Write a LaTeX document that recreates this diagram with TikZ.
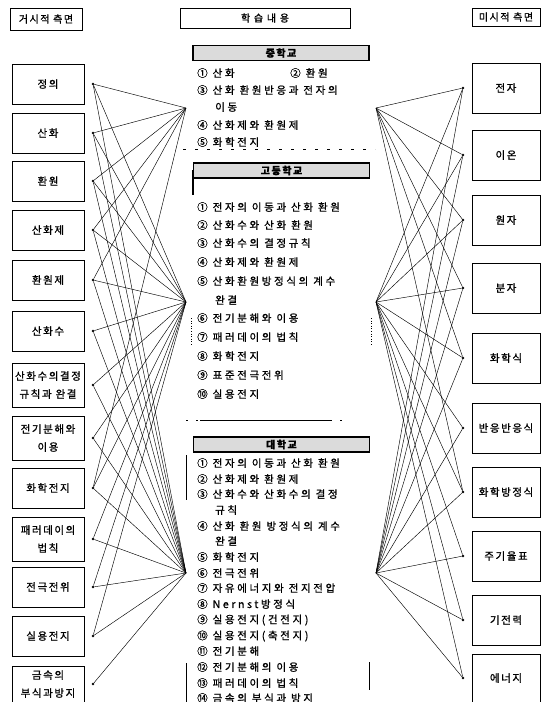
\documentclass[tikz,border=0pt]{standalone}
\usepackage{fontspec}
\newfontfamily\kr{Noto Sans CJK KR}[LetterSpace=15,FakeBold=1]
\newfontfamily\krm{Noto Sans CJK KR}[LetterSpace=25,FakeBold=1]
\begin{document}
\begin{tikzpicture}[x=1pt,y=-1pt,
  lbox/.style={draw, line width=0.6pt, minimum width=72pt, minimum height=40pt, inner sep=1pt, align=center, font=\kr\fontsize{10.5}{18}\selectfont},
  rbox/.style={draw, line width=0.6pt, minimum width=68pt, minimum height=50pt, inner sep=1pt, align=center, font=\kr\fontsize{10.5}{18}\selectfont},
  hbox/.style={draw, line width=0.6pt, inner sep=1pt, align=center, font=\kr\fontsize{10}{12}\selectfont},
  titlebox/.style={draw, line width=1.6pt, fill=gray!28, minimum width=176pt, minimum height=15pt, inner sep=0pt, font=\kr\bfseries\fontsize{10}{12}\selectfont},
  item/.style={anchor=west, inner sep=0pt, font=\krm\fontsize{10.5}{12}\selectfont},
  dotn/.style={circle, fill=black, inner sep=0pt, minimum size=2.6pt},
  link/.style={line width=0.45pt},
  scan/.style={line width=0.6pt}]
\useasboundingbox (0,0) rectangle (552,702);
\fill[white] (0,0) rectangle (552,702);

% headers
\node[hbox, minimum width=72pt, minimum height=22pt] (hL) at (46,19) {거시적 측면};
\node[hbox, minimum width=170pt, minimum height=20pt] (hC) at (265,18) {학 습 내 용};
\node[hbox, minimum width=68pt, minimum height=18pt] (hR) at (506,17) {미시적 측면};

% left boxes
\node[lbox] (L1) at (48,84) {정의};
\node[lbox] (L2) at (48,133) {산화};
\node[lbox] (L3) at (48,181) {환원};
\node[lbox] (L4) at (48,230) {산화제};
\node[lbox] (L5) at (48,280) {환원제};
\node[lbox] (L6) at (48,331) {산화수};
\node[lbox, minimum height=44pt] (L7) at (48,385) {산화수의결정\\규칙과 완결};
\node[lbox, minimum height=44pt] (L8) at (48,438) {전기분해와\\이용};
\node[lbox] (L9) at (48,488) {화학전지};
\node[lbox, minimum height=44pt] (L10) at (48,539) {패러데이의\\법칙};
\node[lbox] (L11) at (48,587) {전극전위};
\node[lbox] (L12) at (48,636) {실용전지};
\node[lbox, minimum height=36pt] (L13) at (48,684) {금속의\\부식과방지};

% right boxes
\node[rbox] (R1b) at (506,88) {전자};
\node[rbox] (R2b) at (506,155) {이온};
\node[rbox] (R3b) at (506,220) {원자};
\node[rbox] (R4b) at (506,288) {분자};
\node[rbox] (R5b) at (506,358) {화학식};
\node[rbox] (R6b) at (506,428) {반응반응식};
\node[rbox] (R7b) at (506,492) {화학방정식};
\node[rbox] (R8b) at (506,556) {주기율표};
\node[rbox] (R9b) at (506,620) {기전력};
\node[rbox, minimum height=48pt] (R10b) at (506,678) {에너지};

% dots
\foreach \i/\y in {1/84,2/133,3/181,4/230,5/280,6/331,7/385,8/438,9/488,10/539,11/587,12/636,13/684}
  \node[dotn] (a\i) at (93,\y) {};
\foreach \i/\y in {1/88,2/155,3/220,4/288,5/358,6/428,7/492,8/556,9/620,10/678}
  \node[dotn] (b\i) at (463,\y) {};

% hubs
\coordinate (H1) at (186,108);
\coordinate (H2) at (186,302);
\coordinate (H3) at (186,573);
\coordinate (G1) at (376,108);
\coordinate (G2) at (376,302);
\coordinate (G3) at (376,573);

% middle: 중학교
\node[titlebox] (tJ) at (281,53) {중학교};
\node[item] (j1) at (197,73) {① 산화};
\node[item] (j2) at (290,73) {② 환원};
\node[item] (j3) at (197,90) {③ 산화 환원반응과 전자의};
\node[item] (j3b) at (215,107) {이동};
\node[item] (j4) at (197,125) {④ 산화제와 환원제};
\node[item] (j5) at (197,142) {⑤ 화학전지};
\draw[scan, dash pattern=on 3pt off 9pt] (183,149) -- (375,149);

% middle: 고등학교
\node[titlebox] (tG) at (281.5,170.5) {고등학교};
\draw[scan, line width=1.2pt] (193,170) -- (193,195);
\node[item] (g1) at (197,207) {① 전자의 이동과 산화 환원};
\node[item] (g2) at (197,225) {② 산화수와 산화 환원};
\node[item] (g3) at (197,243) {③ 산화수의 결정규칙};
\node[item] (g4) at (197,262) {④ 산화제와 환원제};
\node[item] (g5) at (197,281) {⑤ 산화환원방정식의 계수};
\node[item] (g5b) at (215,300) {완결};
\node[item] (g6) at (197,318) {⑥ 전기분해와 이용};
\node[item] (g7) at (197,337) {⑦ 패러데이의 법칙};
\node[item] (g8) at (197,356) {⑧ 화학전지};
\node[item] (g9) at (197,375) {⑨ 표준전극전위};
\node[item] (g10) at (197,394) {⑩ 실용전지};
\draw[scan, dotted] (191,318) -- (191,345);
\draw[scan, dotted] (371,318) -- (371,345);
\draw[scan] (200,420) -- (330,420);
\draw[scan, dash pattern=on 2pt off 8pt] (186,420) -- (200,420);
\draw[scan, dash pattern=on 2pt off 8pt] (330,420) -- (345,420);

% middle: 대학교
\node[titlebox] (tD) at (281.5,444.5) {대학교};
\node[item] (d1) at (197,463) {① 전자의 이동과 산화 환원};
\node[item] (d2) at (197,479) {② 산화제와 환원제};
\node[item] (d3) at (197,494) {③ 산화수와 산화수의 결정};
\node[item] (d3b) at (215,510) {규칙};
\node[item] (d4) at (197,526) {④ 산화 환원 방정식의 계수};
\node[item] (d4b) at (215,541) {완결};
\node[item] (d5) at (197,557) {⑤ 화학전지};
\node[item] (d6) at (197,573) {⑥ 전극전위};
\node[item] (d7) at (197,588) {⑦ 자유에너지와 전지전압};
\node[item] (d8) at (197,604) {⑧ Nernst방정식};
\node[item] (d9) at (197,620) {⑨ 실용전지(건전지)};
\node[item] (d10) at (197,636) {⑩ 실용전지(축전지)};
\node[item] (d11) at (197,651) {⑪ 전기분해};
\node[item] (d12) at (197,667) {⑫ 전기분해의 이용};
\node[item] (d13) at (197,683) {⑬ 패러데이의 법칙};
\node[item] (d14) at (197,698) {⑭ 금속의 부식과 방지};
\draw[scan] (186,455) -- (186,500);
\draw[scan] (186,663) -- (186,702);
\draw[scan, line width=1pt] (369,662) -- (369,690);

% connectors left
\foreach \i in {1,2,3,4,5,9} \draw[link] (a\i) -- (H1);
\foreach \i in {1,...,12} \draw[link] (a\i) -- (H2);
\foreach \i in {1,...,13} \draw[link] (a\i) -- (H3);
% connectors right
\foreach \i in {1,2,3,4,5,7} \draw[link] (b\i) -- (G1);
\foreach \i in {1,...,10} \draw[link] (b\i) -- (G2);
\foreach \i in {1,...,10} \draw[link] (b\i) -- (G3);
\end{tikzpicture}
\end{document}
